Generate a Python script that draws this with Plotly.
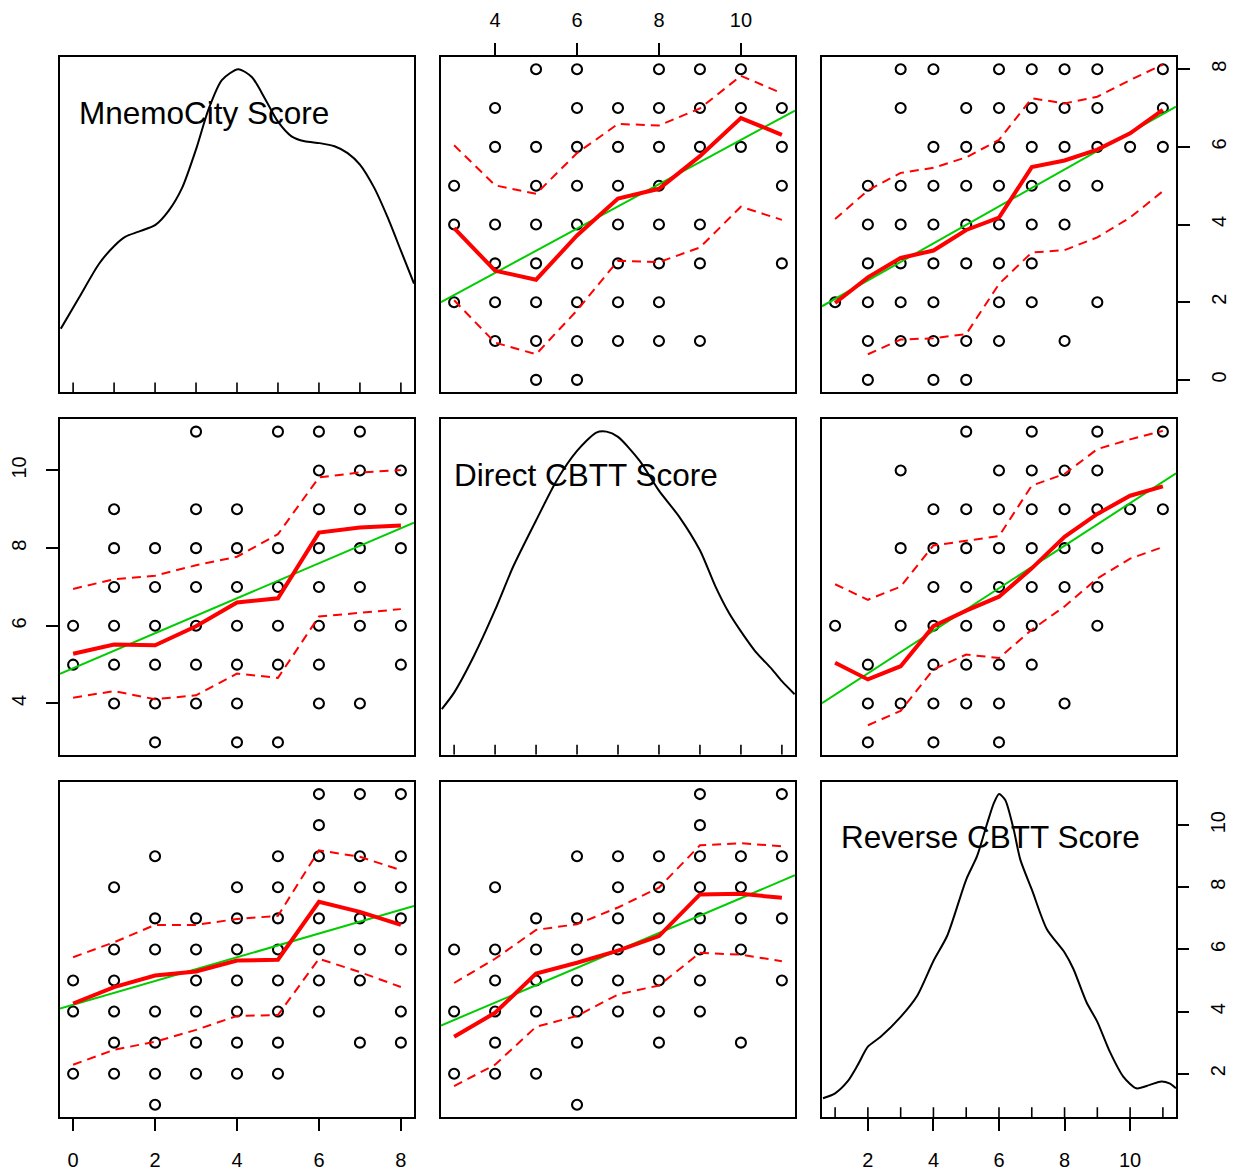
import plotly.graph_objects as go

W, H = 1236, 1171
FONT = "Liberation Sans, Arial, Helvetica, sans-serif"

# ---------------- data ----------------
var_names = ["MnemoCity Score", "Direct CBTT Score", "Reverse CBTT Score"]
mnemo_levels = [0, 1, 2, 3, 4, 5, 6, 7, 8]
direct_levels = [3, 4, 5, 6, 7, 8, 9, 10, 11]
reverse_levels = [1, 2, 3, 4, 5, 6, 7, 8, 9, 10, 11]

# observed (distinct) pairs, grouped by the first variable
direct_given_mnemo = [[5, 6], [4, 5, 6, 7, 8, 9], [3, 4, 5, 6, 7, 8], [4, 5, 6, 7, 8, 9, 11],
                      [3, 4, 5, 6, 7, 8, 9], [3, 5, 6, 7, 8, 11], [4, 5, 6, 7, 8, 9, 10, 11],
                      [4, 6, 7, 8, 9, 10, 11], [5, 6, 8, 9, 10]]
reverse_given_mnemo = [[2, 4, 5], [2, 3, 4, 5, 6, 8], [1, 2, 3, 4, 6, 7, 9], [2, 3, 4, 5, 6, 7],
                       [2, 3, 4, 5, 6, 7, 8], [2, 3, 4, 5, 6, 7, 8, 9], [4, 5, 6, 7, 8, 9, 10, 11],
                       [3, 5, 6, 7, 8, 9, 11], [3, 4, 6, 7, 8, 9, 11]]
reverse_given_direct = [[2, 4, 6], [2, 3, 4, 5, 6, 8], [2, 4, 5, 6, 7], [1, 3, 4, 5, 6, 7, 9],
                        [4, 5, 6, 7, 8, 9], [3, 4, 5, 6, 7, 8, 9], [4, 5, 6, 7, 8, 9, 10, 11],
                        [3, 6, 7, 8, 9], [5, 7, 9, 11]]

# linear fits (intercept, slope)
lm_mnemo_on_direct = (0.47, 0.571)
lm_mnemo_on_reverse = (1.61, 0.476)
lm_direct_on_mnemo = (4.91, 0.450)
lm_direct_on_reverse = (3.68, 0.548)
lm_reverse_on_mnemo = (4.22, 0.382)
lm_reverse_on_direct = (2.05, 0.560)

# loess smooths (fit, upper spread, lower spread) at each x level
sm_mnemo_on_direct = [3.91, 2.81, 2.58, 3.72, 4.67, 4.92, 5.76, 6.74, 6.31]
up_mnemo_on_direct = [6.04, 5.01, 4.79, 5.84, 6.59, 6.55, 6.99, 7.83, 7.38]
lo_mnemo_on_direct = [2.05, 0.96, 0.66, 1.79, 3.07, 3.03, 3.41, 4.46, 4.12]

sm_mnemo_on_reverse = [1.98, 2.64, 3.14, 3.33, 3.86, 4.18, 5.48, 5.65, 5.93, 6.35, 6.95]
up_mnemo_on_reverse = [4.14, 4.88, 5.33, 5.46, 5.73, 6.18, 7.25, 7.12, 7.29, 7.72, 8.12]
lo_mnemo_on_reverse = [0.66, 1.04, 1.07, 1.18, 2.47, 3.28, 3.34, 3.67, 4.18, 4.86]  # from reverse=2

sm_direct_on_mnemo = [5.28, 5.52, 5.50, 5.99, 6.60, 6.71, 8.40, 8.53, 8.58]
up_direct_on_mnemo = [6.95, 7.20, 7.29, 7.56, 7.78, 8.36, 9.82, 9.95, 10.01]
lo_direct_on_mnemo = [4.15, 4.32, 4.11, 4.21, 4.77, 4.66, 6.24, 6.34, 6.43]

sm_direct_on_reverse = [5.05, 4.62, 4.96, 5.99, 6.39, 6.75, 7.48, 8.29, 8.88, 9.35, 9.59]
up_direct_on_reverse = [7.07, 6.67, 7.01, 8.07, 8.19, 8.31, 9.61, 9.91, 10.55, 10.80, 11.02]
lo_direct_on_reverse = [3.44, 3.81, 4.88, 5.26, 5.17, 5.90, 6.50, 7.22, 7.73, 8.03]  # from reverse=2

sm_reverse_on_mnemo = [4.26, 4.79, 5.16, 5.29, 5.64, 5.67, 7.53, 7.21, 6.79]
up_reverse_on_mnemo = [5.75, 6.23, 6.79, 6.79, 6.98, 7.08, 9.19, 8.98, 8.55]
lo_reverse_on_mnemo = [2.29, 2.77, 3.03, 3.41, 3.86, 3.89, 5.70, 5.27, 4.79]

sm_reverse_on_direct = [3.19, 3.96, 5.22, 5.57, 5.96, 6.43, 7.77, 7.79, 7.66]
up_reverse_on_direct = [4.92, 5.70, 6.63, 6.81, 7.35, 7.99, 9.35, 9.42, 9.32]
lo_reverse_on_direct = [1.60, 2.29, 3.51, 3.86, 4.55, 4.84, 5.89, 5.83, 5.62]

# kernel densities (relative height, peak = 1)
dens_mnemo_x = [-0.30, 0.15, 0.63, 1.01, 1.28, 1.60, 2.01, 2.33, 2.66, 3.01, 3.30, 3.63, 4.03,
                4.36, 4.68, 5.00, 5.33, 5.65, 6.02, 6.38, 6.70, 7.00, 7.35, 7.68, 8.00, 8.32]
dens_mnemo_y = [0.165, 0.266, 0.373, 0.432, 0.461, 0.477, 0.499, 0.544, 0.618, 0.746, 0.869, 0.965,
                1.000, 0.975, 0.906, 0.831, 0.784, 0.768, 0.762, 0.752, 0.730, 0.693, 0.618, 0.522,
                0.416, 0.310]
dens_direct_x = [2.70, 3.00, 3.48, 4.00, 4.44, 5.00, 5.50, 6.00, 6.47, 6.72, 7.00, 7.53, 8.00,
                 8.50, 9.00, 9.38, 9.71, 10.00, 10.35, 10.76, 11.00, 11.31]
dens_direct_y = [0.107, 0.160, 0.277, 0.426, 0.565, 0.714, 0.842, 0.938, 0.997, 1.000, 0.983,
                 0.906, 0.810, 0.725, 0.618, 0.501, 0.416, 0.357, 0.293, 0.235, 0.197, 0.155]
dens_reverse_x = [0.63, 1.00, 1.38, 1.69, 2.00, 2.39, 3.00, 3.51, 4.00, 4.42, 5.00, 5.33, 5.64,
                  5.84, 6.00, 6.19, 6.45, 6.65, 7.00, 7.46, 8.00, 8.27, 8.67, 9.00, 9.38, 9.79,
                  10.19, 10.60, 10.95, 11.20, 11.40]
dens_reverse_y = [0.021, 0.037, 0.075, 0.128, 0.187, 0.219, 0.283, 0.352, 0.463, 0.544, 0.725,
                  0.800, 0.906, 0.970, 1.000, 0.981, 0.885, 0.789, 0.693, 0.565, 0.490, 0.437,
                  0.330, 0.267, 0.171, 0.091, 0.053, 0.064, 0.075, 0.069, 0.053]

mnemo_ticks = [0, 2, 4, 6, 8]
direct_ticks = [4, 6, 8, 10]
reverse_ticks = [2, 4, 6, 8, 10]


def flatten(levels, groups):
    xs, ys = [], []
    for lv, g in zip(levels, groups):
        for v in g:
            xs.append(lv)
            ys.append(v)
    return xs, ys


mnemo_md, direct_md = flatten(mnemo_levels, direct_given_mnemo)
mnemo_mr, reverse_mr = flatten(mnemo_levels, reverse_given_mnemo)
direct_dr, reverse_dr = flatten(direct_levels, reverse_given_direct)

ranges = [[-0.32, 8.32], [2.68, 11.32], [0.6, 11.4]]
dens_range = [-0.04, 1.04]
levels = [mnemo_levels, direct_levels, reverse_levels]

# ---------------- layout geometry ----------------
col_px = [(60, 414), (441, 795), (822, 1176)]
row_px = [(57, 394), (421, 758), (785, 1122)]

fig = go.Figure()

RED = "#FF0000"
GREEN = "#00CD00"
LW = 2.0


def ax(k):
    return ("x" if k == 1 else f"x{k}"), ("y" if k == 1 else f"y{k}")


scatter_specs = {
    (0, 1): (direct_md, mnemo_md, lm_mnemo_on_direct, direct_levels,
             sm_mnemo_on_direct, up_mnemo_on_direct, lo_mnemo_on_direct, direct_levels),
    (0, 2): (reverse_mr, mnemo_mr, lm_mnemo_on_reverse, reverse_levels,
             sm_mnemo_on_reverse, up_mnemo_on_reverse, lo_mnemo_on_reverse, reverse_levels[1:]),
    (1, 0): (mnemo_md, direct_md, lm_direct_on_mnemo, mnemo_levels,
             sm_direct_on_mnemo, up_direct_on_mnemo, lo_direct_on_mnemo, mnemo_levels),
    (1, 2): (reverse_dr, direct_dr, lm_direct_on_reverse, reverse_levels,
             sm_direct_on_reverse, up_direct_on_reverse, lo_direct_on_reverse, reverse_levels[1:]),
    (2, 0): (mnemo_mr, reverse_mr, lm_reverse_on_mnemo, mnemo_levels,
             sm_reverse_on_mnemo, up_reverse_on_mnemo, lo_reverse_on_mnemo, mnemo_levels),
    (2, 1): (direct_dr, reverse_dr, lm_reverse_on_direct, direct_levels,
             sm_reverse_on_direct, up_reverse_on_direct, lo_reverse_on_direct, direct_levels),
}

dens_specs = {0: (dens_mnemo_x, dens_mnemo_y), 1: (dens_direct_x, dens_direct_y),
              2: (dens_reverse_x, dens_reverse_y)}

for r in range(3):
    for c in range(3):
        k = r * 3 + c + 1
        xa, ya = ax(k)
        if r == c:
            dx, dy = dens_specs[r]
            fig.add_trace(go.Scatter(x=dx, y=dy, mode="lines", xaxis=xa, yaxis=ya,
                                     line=dict(color="black", width=LW, shape="spline", smoothing=0.7),
                                     hoverinfo="skip", showlegend=False))
            rx, ry = [], []
            h = 0.032
            for v in levels[r]:
                rx += [v, v, None]
                ry += [dens_range[0], dens_range[0] + h, None]
            fig.add_trace(go.Scatter(x=rx, y=ry, mode="lines", xaxis=xa, yaxis=ya,
                                     line=dict(color="black", width=1.6),
                                     hoverinfo="skip", showlegend=False))
        else:
            px_, py_, lm, lv, sm, up, lo, lolv = scatter_specs[(r, c)]
            fig.add_trace(go.Scatter(x=px_, y=py_, mode="markers", xaxis=xa, yaxis=ya,
                                     marker=dict(symbol="circle-open", size=10, color="black",
                                                 line=dict(width=2.1, color="black")),
                                     hoverinfo="skip", showlegend=False))
            x0, x1 = ranges[c]
            fig.add_trace(go.Scatter(x=[x0, x1], y=[lm[0] + lm[1] * x0, lm[0] + lm[1] * x1],
                                     mode="lines", xaxis=xa, yaxis=ya,
                                     line=dict(color=GREEN, width=2.0),
                                     hoverinfo="skip", showlegend=False))
            fig.add_trace(go.Scatter(x=lv, y=sm, mode="lines", xaxis=xa, yaxis=ya,
                                     line=dict(color=RED, width=4),
                                     hoverinfo="skip", showlegend=False))
            fig.add_trace(go.Scatter(x=lv, y=up, mode="lines", xaxis=xa, yaxis=ya,
                                     line=dict(color=RED, width=2.0, dash="9px,6px"),
                                     hoverinfo="skip", showlegend=False))
            fig.add_trace(go.Scatter(x=lolv, y=lo, mode="lines", xaxis=xa, yaxis=ya,
                                     line=dict(color=RED, width=2.0, dash="9px,6px"),
                                     hoverinfo="skip", showlegend=False))

# invisible trace to carry the right-hand Reverse axis of the bottom-right panel
fig.add_trace(go.Scatter(x=reverse_levels, y=reverse_levels, mode="markers", xaxis="x9", yaxis="y10",
                         marker=dict(opacity=0), hoverinfo="skip", showlegend=False))

tickfont = dict(family=FONT, size=20, color="black")
base = dict(showgrid=False, zeroline=False, showline=True, mirror=True, linecolor="black",
            linewidth=1.8, ticklen=12, tickwidth=1.8, tickcolor="black", tickfont=tickfont,
            fixedrange=True)

x_tick_info = {(0, 1): ("top", direct_ticks, 8), (2, 0): ("bottom", mnemo_ticks, 12),
               (2, 2): ("bottom", reverse_ticks, 12)}
y_tick_info = {(0, 2): ("right", mnemo_ticks, 12), (1, 0): ("left", direct_ticks, 12)}

layout_axes = {}
for r in range(3):
    for c in range(3):
        k = r * 3 + c + 1
        suffix = "" if k == 1 else str(k)
        xd = [col_px[c][0] / W, col_px[c][1] / W]
        yd = [1 - row_px[r][1] / H, 1 - row_px[r][0] / H]
        xcfg = dict(base, domain=xd, range=ranges[c], anchor="y" + suffix)
        if (r, c) in x_tick_info:
            side, tv, so = x_tick_info[(r, c)]
            xcfg.update(side=side, tickvals=tv, ticks="outside", showticklabels=True,
                        ticklabelstandoff=so)
        else:
            xcfg.update(ticks="", showticklabels=False)
        ycfg = dict(base, domain=yd, anchor="x" + suffix,
                    range=dens_range if r == c else ranges[r])
        if (r, c) in y_tick_info:
            side, tv, so = y_tick_info[(r, c)]
            ycfg.update(side=side, tickvals=tv, ticks="outside", showticklabels=True,
                        tickangle=-90, ticklabelstandoff=so)
        else:
            ycfg.update(ticks="", showticklabels=False)
        layout_axes["xaxis" + suffix] = xcfg
        layout_axes["yaxis" + suffix] = ycfg

layout_axes["yaxis10"] = dict(base, overlaying="y9", anchor="x9", side="right", range=ranges[2],
                              tickvals=reverse_ticks, ticks="outside", showticklabels=True,
                              tickangle=-90, ticklabelstandoff=12, showline=False)

annotations = []
label_px = [(77, 113), (452, 477), (839, 841)]
for i, name in enumerate(var_names):
    lx, ly = label_px[i]
    annotations.append(dict(text=name, x=lx / W, y=1 - ly / H, xref="paper", yref="paper",
                            xanchor="left", yanchor="middle", showarrow=False,
                            font=dict(family=FONT, size=31.5, color="black")))

fig.update_layout(width=W, height=H, margin=dict(l=0, r=0, t=0, b=0),
                  paper_bgcolor="white", plot_bgcolor="white",
                  annotations=annotations, showlegend=False, **layout_axes)

fig.write_html("out.html", config={"displayModeBar": False},
               post_script="document.body.style.margin='0';document.body.style.padding='0';")
